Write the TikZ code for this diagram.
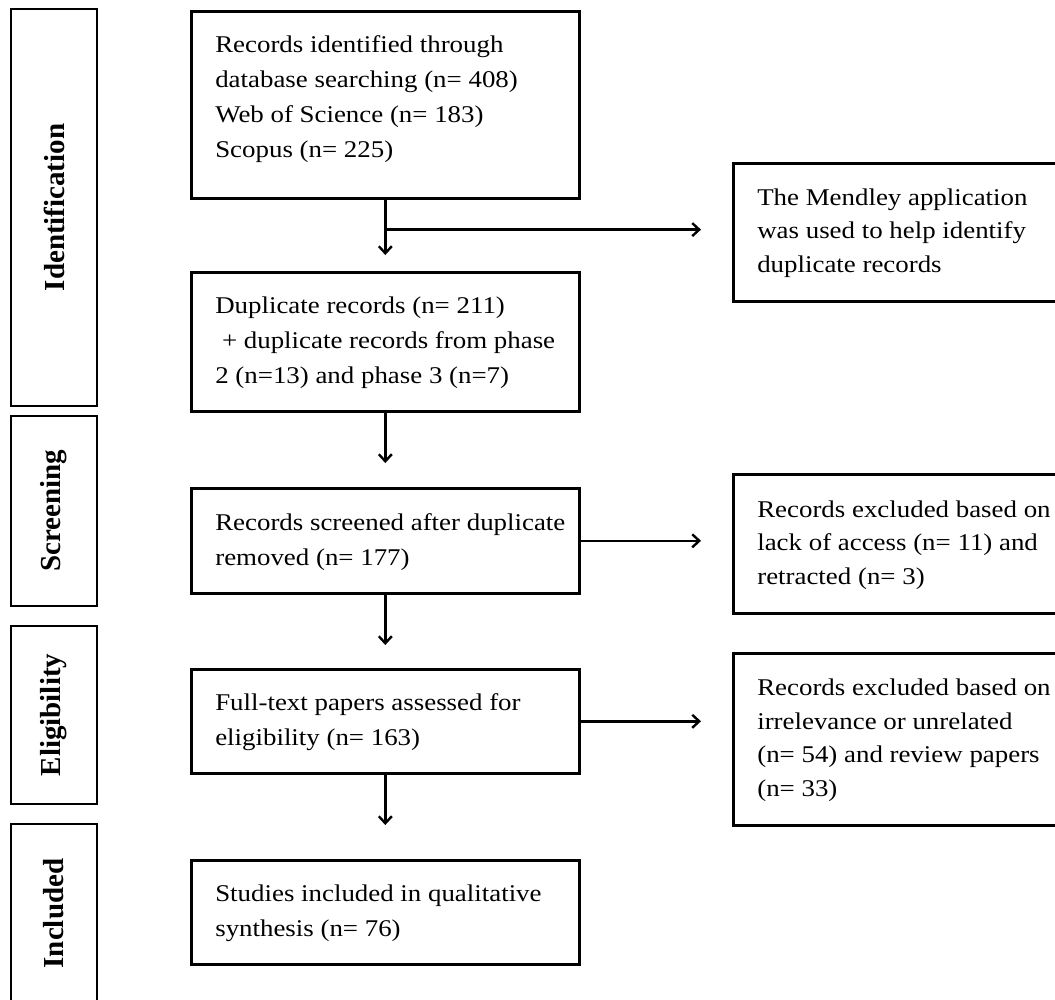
\documentclass[tikz,border=0pt]{standalone}
\usepackage{fontspec}
\setmainfont{Liberation Serif}[FakeStretch=1.12]
\newfontfamily\labfont{Liberation Serif}
\usetikzlibrary{arrows.meta,calc}
\newcommand\boxlines[2]{\makebox[#1][l]{\begin{tabular}{@{}l@{}}#2\end{tabular}}}
\tikzset{
  flowbox/.style 2 args={draw, line width=2.6pt, inner xsep=24pt, inner ysep=0pt,
    anchor=north west, minimum width=#1pt, minimum height=#2pt,
    font=\fontsize{24}{35}\selectfont},
  sidebox/.style 2 args={flowbox={#1}{#2}, font=\fontsize{24}{33.5}\selectfont},
  phase/.style={draw, line width=2.6pt, rotate=90, minimum height=86pt, inner sep=0pt,
    font=\labfont\bfseries\fontsize{29}{30}\selectfont},
  arr/.style={line width=2.4pt, -{Straight Barb[length=7pt,width=13pt]}}
}
\begin{document}
\begin{tikzpicture}[x=1pt,y=-1pt]
\useasboundingbox (0,0) rectangle (1055,1000);
% phase labels
\node[phase, minimum width=397pt] (pid) at (54,207.5) {Identification};
\node[phase, minimum width=190pt] (psc) at (54,511) {Screening};
\node[phase, minimum width=178pt] (pel) at (54,715) {Eligibility};
\node[phase, minimum width=179pt] (pin) at (54,913.5) {Included};
% main column
\node[flowbox={388}{187}] (b1) at (190,10) {\boxlines{340pt}{Records identified through\\database searching (n= 408)\\Web of Science (n= 183)\\Scopus (n= 225)\\[13pt]}};
\node[flowbox={388}{139}] (b2) at (190,271) {\boxlines{340pt}{Duplicate records (n= 211)\\\ + duplicate records from phase\\2 (n=13) and phase 3 (n=7)}};
\node[flowbox={388}{105}] (b3) at (190,487) {\boxlines{340pt}{Records screened after duplicate\\removed (n= 177)}};
\node[flowbox={388}{104}] (b4) at (190,668) {\boxlines{340pt}{Full-text papers assessed for\\eligibility (n= 163)}};
\node[flowbox={388}{104}] (b5) at (190,859) {\boxlines{340pt}{Studies included in qualitative\\synthesis (n= 76)}};
% side column
\node[sidebox={340}{138}] (r1) at (732,162) {\boxlines{292pt}{The Mendley application\\was used to help identify\\duplicate records}};
\node[sidebox={340}{139}] (r2) at (732,473) {\boxlines{292pt}{Records excluded based on\\lack of access (n= 11) and\\retracted (n= 3)}};
\node[sidebox={340}{172}] (r3) at (732,652) {\boxlines{292pt}{Records excluded based on\\irrelevance or unrelated\\(n= 54) and review papers\\(n= 33)}};
% connectors
\coordinate (br) at ($(b1.south)+(0,30)$);
\draw[arr, shorten >=16pt] (b1.south) -- (b2.north);
\draw[arr, shorten >=31pt] (br) -- (br -| r1.west);
\draw[arr, shorten >=24pt] (b2.south) -- (b3.north);
\draw[arr, shorten >=31pt] (b3.east) -- (b3.east -| r2.west);
\draw[arr, shorten >=23pt] (b3.south) -- (b4.north);
\draw[arr, shorten >=31pt] (b4.east) -- (b4.east -| r3.west);
\draw[arr, shorten >=34pt] (b4.south) -- (b5.north);
\end{tikzpicture}
\end{document}
